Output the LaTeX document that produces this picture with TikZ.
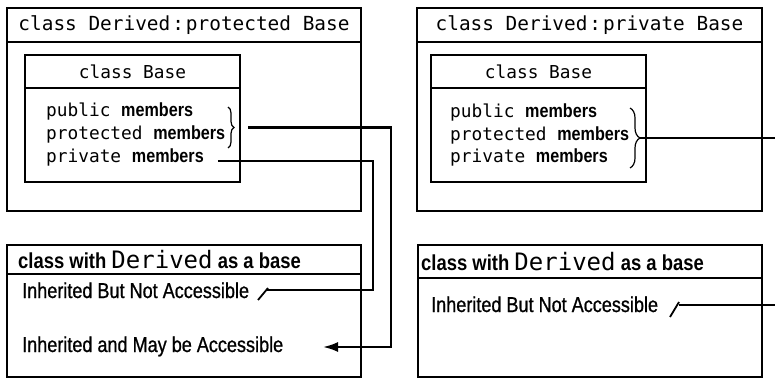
\documentclass[tikz,border=0pt]{standalone}
\usepackage{fontspec}
\usepackage{tikz}
\usetikzlibrary{arrows.meta, positioning, calc, decorations.pathreplacing}
\newfontfamily\codefont{DejaVu Sans Mono}
\newfontfamily\condfont[FakeStretch=0.85]{Liberation Sans}
\newfontfamily\notecond[FakeStretch=0.84, FakeBold=0.8]{Liberation Sans}
\newcommand{\hdrcode}{\codefont\mdseries\fontsize{19.4}{21}\selectfont}
\newcommand{\memcode}{\codefont\mdseries\fontsize{17.8}{20}\selectfont}
\newcommand{\membold}{\condfont\bfseries\fontsize{19}{20}\selectfont}
\newcommand{\subbold}{\condfont\bfseries\fontsize{21.7}{24}\selectfont}
\newcommand{\subcode}{\codefont\mdseries\fontsize{24}{24}\selectfont}
\newcommand{\notefont}{\notecond\fontsize{21.5}{24}\selectfont}
\newcommand{\colsep}{\hspace{2pt}:\hspace{2pt}}
\tikzset{
  box/.style={draw, line width=2.2pt, inner sep=0pt},
  hdrbox/.style={box, anchor=north, minimum height=34pt},
  member/.style={anchor=base west, inner sep=0pt},
  notetext/.style={anchor=base west, inner sep=0pt, font=\notefont},
  subtitle/.style={anchor=base west, inner sep=0pt, font=\subbold},
  brc/.style={decorate, decoration={brace, amplitude=#1}, line width=1.2pt},
  conn/.style={draw, line width=2.2pt},
  arrowend/.style={-{Latex[length=15pt, width=10pt]}}
}

\begin{document}
\begin{tikzpicture}[x=1pt, y=-1pt]
  \useasboundingbox (0,0) rectangle (775,379);

  % Derived : protected Base
  \node[box, minimum width=354pt, minimum height=203pt] (derA) at (184,109.5) {};
  \node[hdrbox, minimum width=354pt, font=\hdrcode] (derAhdr) at (derA.north) {class Derived\colsep protected Base};
  \node[box, minimum width=215pt, minimum height=127pt] (baseA) at (132.5,118.5) {};
  \node[hdrbox, minimum width=215pt, minimum height=33pt, font=\memcode] (baseAhdr) at (baseA.north) {class Base};
  \node[member] (pubA) at (46,117) {{\memcode public }{\membold members}};
  \node[member] (protA) at (46,140) {{\memcode protected }{\membold members}};
  \node[member] (privA) at (46,163) {{\memcode private }{\membold members}};
  \draw[brc=6pt] (228,107) -- (228,148) coordinate[midway, xshift=6pt] (tipA);

  % class with Derived as a base (left)
  \node[box, minimum width=354pt, minimum height=132pt] (subA) at (184,311) {};
  \node[hdrbox, minimum width=354pt, minimum height=29pt] (subAhdr) at (subA.north) {};
  \node[subtitle] (subAttl) at (18,268) {class with {\subcode Derived} as a base};
  \node[notetext] (notA) at (22,298) {Inherited But Not Accessible};
  \node[notetext] (mayA) at (22,352) {Inherited and May be Accessible};

  % Derived : private Base
  \node[box, minimum width=345pt, minimum height=203pt] (derB) at (589.5,109.5) {};
  \node[hdrbox, minimum width=345pt, font=\hdrcode] (derBhdr) at (derB.north) {class Derived\colsep private Base};
  \node[box, minimum width=215pt, minimum height=127pt] (baseB) at (538.5,118.5) {};
  \node[hdrbox, minimum width=215pt, minimum height=33pt, font=\memcode] (baseBhdr) at (baseB.north) {class Base};
  \node[member] (pubB) at (450,118) {{\memcode public }{\membold members}};
  \node[member] (protB) at (450,141) {{\memcode protected }{\membold members}};
  \node[member] (privB) at (450,163) {{\memcode private }{\membold members}};
  \draw[brc=10pt] (630,108) -- (630,168) coordinate[midway, xshift=10pt] (tipB);

  % class with Derived as a base (right)
  \node[box, minimum width=344pt, minimum height=132pt] (subB) at (590,311) {};
  \node[hdrbox, minimum width=344pt, minimum height=33pt] (subBhdr) at (subB.north) {};
  \node[subtitle] (subBttl) at (421,270) {class with {\subcode Derived} as a base};
  \node[notetext] (notB) at (431,312) {Inherited But Not Accessible};

  % Connectors
  \coordinate (colA) at (391,347);
  \coordinate (mayTip) at (323,347);
  \coordinate (colB) at (373,290);
  \coordinate (slashA) at (267,290);
  \coordinate (edgeB) at (775,138);
  \coordinate (slashB) at (679,305);
  \coordinate (edgeC) at (775,305);

  \draw[conn, arrowend, shorten <=14pt] (tipA) -| (colA) -- (mayTip);
  \draw[conn, shorten <=14pt] ([yshift=2pt]privA.base east) -| (colB) -- (slashA);
  \draw[conn, line width=1.8pt] ([shift={(1,-2)}]slashA) -- ++(-10,12);

  \draw[conn] (tipB) -- (edgeB);
  \draw[conn] (slashB) -- (edgeC);
  \draw[conn, line width=1.8pt] ([shift={(0,-3)}]slashB) -- ++(-9,15);
\end{tikzpicture}
\end{document}
